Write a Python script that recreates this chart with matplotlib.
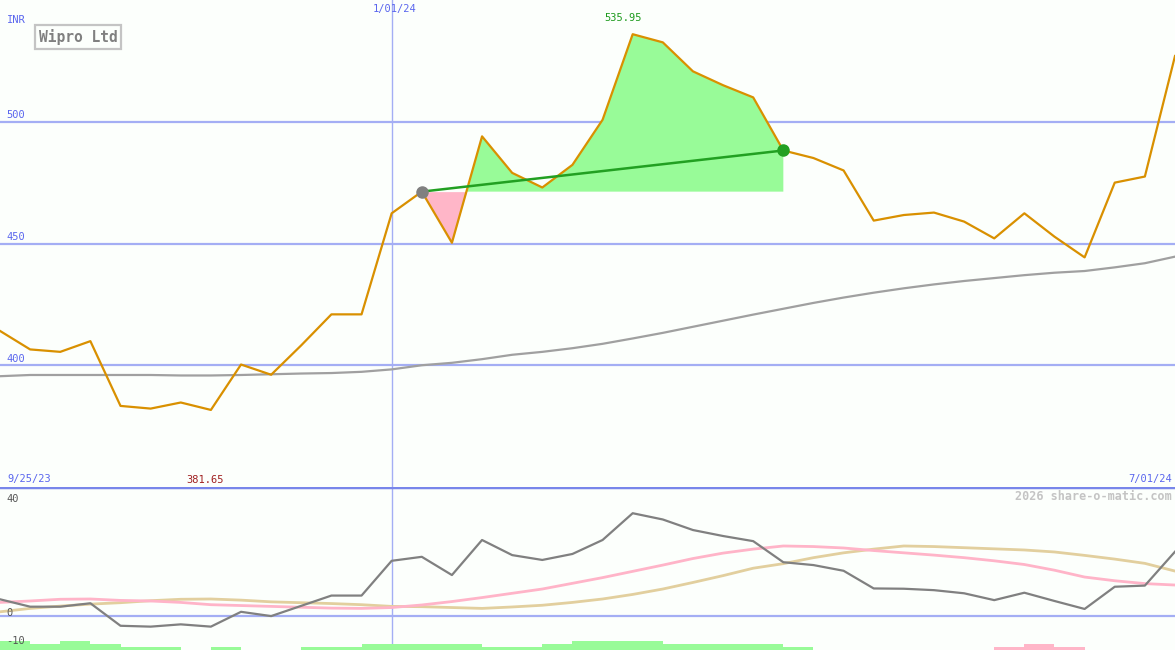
import numpy as np
import matplotlib
matplotlib.use("Agg")
import matplotlib.pyplot as plt

# weekly closes, Wipro Ltd (INR)
price = [414.1, 406.5, 405.5, 409.9, 383.3, 382.2, 384.7, 381.65, 400.3, 396.1,
         408.2, 420.9, 420.9, 462.4, 471.3, 450.3, 494.0, 479.0, 473.0, 482.3,
         500.8, 535.95, 532.6, 520.7, 515.0, 510.0, 488.2, 485.1, 480.0, 459.4,
         461.7, 462.7, 459.0, 452.1, 462.4, 452.8, 444.3, 475.0, 477.5, 527.0]
# long moving average (grey)
ma_long = [395.5, 396.0, 396.0, 396.0, 396.0, 396.0, 395.8, 395.8, 396.0, 396.3,
           396.6, 396.8, 397.3, 398.3, 400.0, 401.0, 402.5, 404.3, 405.5, 407.0,
           408.8, 411.0, 413.3, 415.8, 418.3, 420.8, 423.2, 425.6, 427.8, 429.8,
           431.6, 433.2, 434.6, 435.8, 437.0, 438.0, 438.7, 440.2, 441.9, 444.6]
# lower panel indicator lines
ind_grey = [5.7, 3.1, 3.1, 4.3, -3.6, -3.9, -3.1, -3.9, 1.3, -0.2,
            3.4, 7.0, 7.0, 19.2, 20.6, 14.2, 26.5, 21.2, 19.5, 21.6,
            26.5, 35.9, 33.7, 30.0, 27.9, 26.1, 18.7, 17.7, 15.7, 9.5,
            9.4, 8.9, 7.8, 5.4, 8.0, 5.1, 2.3, 10.1, 10.5, 22.4]
ind_pink = [4.6, 5.1, 5.7, 5.8, 5.3, 5.1, 4.6, 3.8, 3.5, 3.2,
            2.9, 2.6, 2.5, 2.8, 3.7, 4.9, 6.3, 7.8, 9.3, 11.3,
            13.3, 15.5, 17.7, 20.0, 21.9, 23.3, 24.4, 24.2, 23.7, 22.8,
            22.0, 21.2, 20.3, 19.2, 17.9, 15.9, 13.5, 12.2, 11.2, 10.7]
ind_tan = [1.3, 2.5, 3.3, 4.0, 4.5, 5.2, 5.7, 5.8, 5.4, 4.8,
           4.5, 4.2, 3.8, 3.2, 3.1, 2.8, 2.5, 3.0, 3.6, 4.6,
           5.8, 7.4, 9.3, 11.6, 14.0, 16.6, 18.2, 20.3, 22.0, 23.3,
           24.4, 24.2, 23.8, 23.4, 23.0, 22.3, 21.1, 19.8, 18.3, 15.6]
# signal bars along the bottom (+ green, - pink)
signal = [3, 2, 3, 2, 1, 1, 0, 1, 0, 0,
          1, 1, 2, 2, 2, 2, 1, 1, 2, 3,
          3, 3, 2, 2, 2, 2, 1, 0, 0, 0,
          0, 0, 0, -1, -2, -1, 0, 0, 0]

grid_levels = [400, 450, 500]
lower_levels = [40, 0, -10]
trade_start = 14
trade_end = 26
year_mark = 13
date_first = "9/25/23"
date_last = "7/01/24"
date_mark = "1/01/24"

bg = "#fcfffc"
gridblue = "#a4aef4"
txtblue = "#5a66ee"
W, H = 1175, 650

x = np.arange(len(price))
price = np.array(price)

fig = plt.figure(figsize=(W / 100, H / 100), dpi=100, facecolor=bg)
ax = fig.add_axes([0, 163 / H, 1, 487 / H])
ax2 = fig.add_axes([0, 0, 1, 163 / H])
for a in (ax, ax2):
    a.set_facecolor(bg)
    a.set_xlim(0, len(price) - 1)
    a.axis("off")
ax.set_ylim(350, 550)
ax2.set_ylim(-12.1, 45.1)

# ---- main panel
for lv in grid_levels:
    ax.axhline(lv, color=gridblue, lw=1.6, zorder=1)
    ax.text(0.2, lv + 0.6, str(lv), color=txtblue, fontsize=7.5,
            family="DejaVu Sans Mono", va="bottom", ha="left")
ax.axvline(year_mark, color=gridblue, lw=1, zorder=1)

# trade shading: above entry green, below entry pink
seg = slice(trade_start, trade_end + 1)
entry = price[trade_start]
ax.fill_between(x[seg], price[seg], entry, where=price[seg] >= entry,
                interpolate=True, color="#98fb98", lw=0, zorder=2)
ax.fill_between(x[seg], price[seg], entry, where=price[seg] < entry,
                interpolate=True, color="#ffb6c8", lw=0, zorder=2)

ax.plot(x, ma_long, color="#a0a0a0", lw=1.6, zorder=3)
ax.plot(x, price, color="#d99000", lw=1.6, zorder=4)
ax.plot([x[trade_start], x[trade_end]], [price[trade_start], price[trade_end]],
        color="#22a022", lw=1.8, zorder=5)
ax.plot(x[trade_start], price[trade_start], "o", color="#808080", ms=8, zorder=6)
ax.plot(x[trade_end], price[trade_end], "o", color="#22a022", ms=8, zorder=6)

imax = int(np.argmax(price))
imin = int(np.argmin(price))
ax.annotate(f"{price[imax]:.2f}", (x[imax], price[imax]), xytext=(-7, 8),
            textcoords="offset points", ha="center", va="bottom",
            color="#1c9a1c", fontsize=7.5, family="DejaVu Sans Mono")
ax.text(x[imin] - 0.2, 351, f"{price[imin]:.2f}", ha="center", va="bottom",
        color="#a02020", fontsize=7.5, family="DejaVu Sans Mono")

# ---- lower panel
ax2.axhline(0, color=gridblue, lw=1.6, zorder=1)
ax2.axvline(year_mark, color=gridblue, lw=1, zorder=1)
ax2.axhline(45.1, color="#7886ea", lw=2.5, zorder=7)
for lv in lower_levels:
    ax2.text(0.2, lv - 0.8, str(lv), color="#555555", fontsize=7.5,
             family="DejaVu Sans Mono", va="bottom", ha="left", zorder=8)
ax2.plot(x, ind_tan, color="#e2cf9e", lw=2, zorder=3)
ax2.plot(x, ind_pink, color="#ffb4c8", lw=2, zorder=3)
ax2.plot(x, ind_grey, color="#808080", lw=1.6, zorder=4)

sig = np.array(signal)
bar_cols = ["#98fb98" if s > 0 else "#ffb6c8" for s in sig]
ax2.bar(x[:-1], np.abs(sig) * 1.05, width=1.0, align="edge", bottom=-12.1,
        color=bar_cols, lw=0, zorder=6)

# ---- texts
def ftext(px, py, s, **kw):
    fig.text(px / W, 1 - py / H, s, family="DejaVu Sans Mono", **kw)

ftext(7, 20, "INR", color=txtblue, fontsize=7.5, va="center")
ftext(395, 9, date_mark, color=txtblue, fontsize=7.5, ha="center", va="center")
ftext(7, 479, date_first, color=txtblue, fontsize=7.5, va="center")
ftext(1172, 479, date_last, color=txtblue, fontsize=7.5, ha="right", va="center")
ftext(1172, 496, "2026 share-o-matic.com", color="#c4c4c4", fontsize=8.5,
      ha="right", va="center", weight="bold")
ftext(78, 37, "Wipro Ltd", color="#808080", fontsize=10.5, ha="center",
      va="center", weight="bold",
      bbox=dict(boxstyle="square,pad=0.25", fc=bg, ec="#c4c4c4", lw=1.6))

fig.savefig("out.png", dpi=100, facecolor=bg)
